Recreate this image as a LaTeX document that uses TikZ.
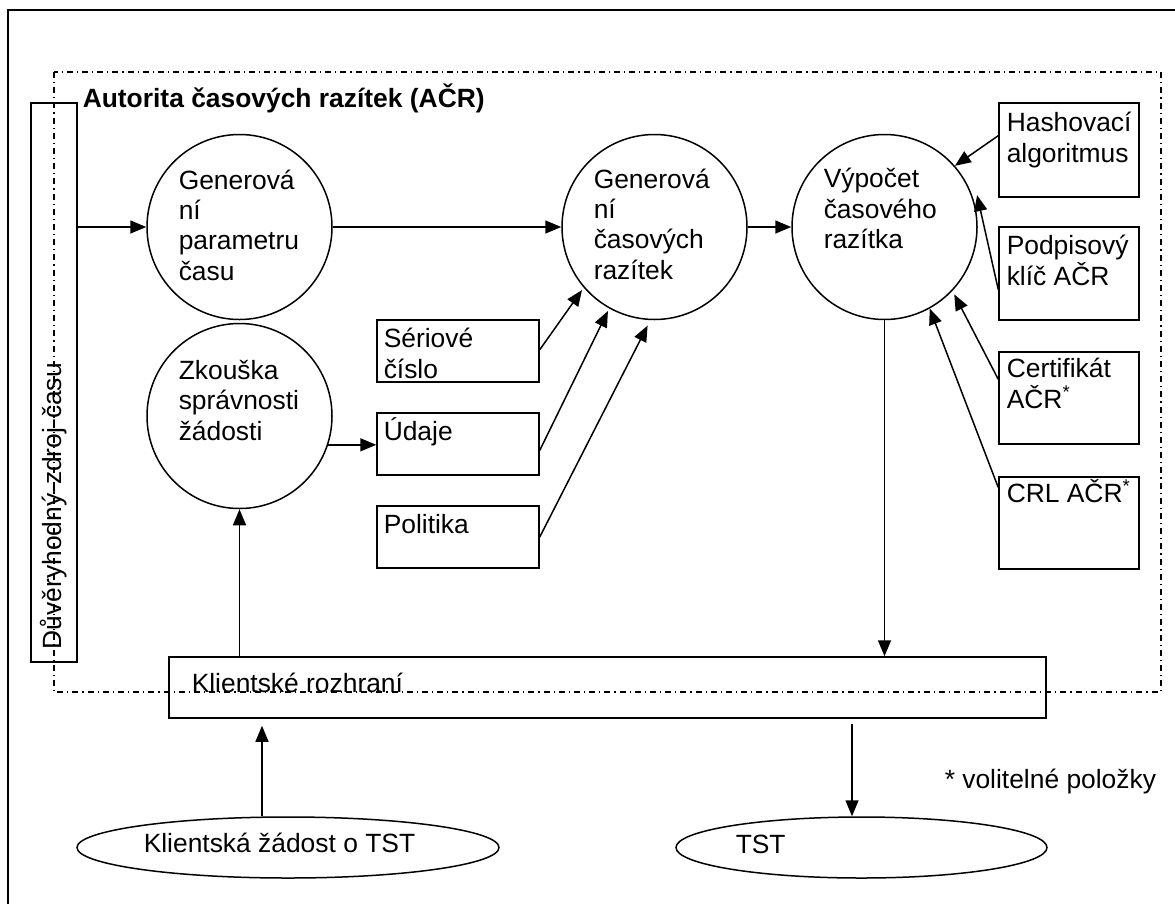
\documentclass[tikz,border=0pt]{standalone}
\usepackage{fontspec}
\setmainfont{Liberation Sans}
\usetikzlibrary{arrows.meta,calc,shapes.geometric}
\begin{document}
\begin{tikzpicture}[x=1pt,y=-1pt,
  line width=1.5pt,
  txt/.style={anchor=base west, align=left, inner sep=0pt, font=\fontsize{26.4}{30.3}\selectfont},
  proc/.style={draw, circle, minimum size=185pt, inner sep=0pt},
  box/.style={draw, rectangle, inner sep=0pt},
  oval/.style={draw, ellipse, minimum height=61pt, inner sep=0pt},
  arr/.style={-{Triangle[length=16pt,width=13pt]}},
  frame/.style={line width=2pt},
  zone/.style={line width=1.2pt, dash pattern=on 6pt off 4pt on 1.2pt off 4pt},
]
\useasboundingbox (0,0) rectangle (1175,903);

% outer frame
\draw[frame] (8,915) -- (8,10) -- (1185,10);

% time source column
\node[box, minimum width=46pt, minimum height=559pt] (zdroj) at (54,382.5) {};
\node[txt, rotate=90] (zdrojt) at (61,650) {Důvěryhodný-zdroj-času};

% processes (multi-line texts are placed by the baseline of their last line)
\node[proc] (c1) at (239.5,227) {};
\node[proc] (c2) at (654.5,227) {};
\node[proc] (c3) at (884.5,227) {};
\node[proc] (c4) at (239.5,416) {};
\node[txt] (c1t) at (178,280) {Generová\\ní\\parametru\\času};
\node[txt] (c2t) at (593,279) {Generová\\ní\\časových\\razítek};
\node[txt] (c3t) at (823,248.5) {Výpočet\\časového\\razítka};
\node[txt] (c4t) at (178,440) {Zkouška\\správnosti\\žádosti};

% inputs of the token
\node[box, minimum width=162pt, minimum height=62pt] (ser) at (458,351) {};
\node[box, minimum width=162pt, minimum height=62pt] (udaje) at (458,444) {};
\node[box, minimum width=162pt, minimum height=62pt] (pol) at (458,537) {};
\node[txt] (sert) at (383,378) {Sériové\\číslo};
\node[txt] (udajet) at (383,440) {Údaje};
\node[txt] (polt) at (383,533) {Politika};

\node[box, minimum width=140pt, minimum height=94pt] (hash) at (1069,150) {};
\node[box, minimum width=140pt, minimum height=93pt] (podp) at (1069,273.5) {};
\node[box, minimum width=140pt, minimum height=92pt] (cert) at (1069,398) {};
\node[box, minimum width=140pt, minimum height=92pt] (crl) at (1069,523) {};
\node[txt] (hasht) at (1006,162) {Hashovací\\algoritmus};
\node[txt] (podpt) at (1006,285) {Podpisový\\klíč AČR};
\node[txt] (certt) at (1006,408) {Certifikát\\AČR\textsuperscript{*}};
\node[txt] (crlt) at (1006,502) {CRL AČR\textsuperscript{*}};

% client side
\node[box, minimum width=877pt, minimum height=61pt] (kr) at (607.5,687.5) {};
\node[txt] (krt) at (191,692) {Klientské rozhraní};
\node[oval, minimum width=422pt] (req) at (288,847.5) {};
\node[oval, minimum width=371pt] (tst) at (861.5,847.5) {};
\node[txt] (reqt) at (143,852) {Klientská žádost o TST};
\node[txt] (tstt) at (735,853) {TST};
\node[txt] (note) at (944,788) {* volitelné položky};

% authority boundary
\draw[zone] (54,72) rectangle (1161,692);
\node[txt, font=\fontsize{26.4}{30.3}\selectfont\bfseries] (title) at (82,107) {Autorita časových razítek (AČR)};

% connectors
\coordinate (inx) at (262,0);
\coordinate (outx) at (852,0);
\draw[arr] (zdroj.east |- c1.west) -- (c1.west);
\draw[arr] (c1.east) -- (c2.west);
\draw[arr] (c2.east) -- (c3.west);
\draw[arr] ($(hash.north west)!0.35!(hash.south west)$) -- (c3.41);
\draw[arr] ($(podp.north west)!0.67!(podp.south west)$) -- ($(c3.center)!1.05!(c3.19)$);
\draw[arr] ($(cert.north west)!0.30!(cert.south west)$) -- ($(c3.center)!1.04!(c3.-44)$);
\draw[arr] ($(crl.north west)!0.12!(crl.south west)$) -- (c3.-61);
\draw[arr] ($(ser.north east)!0.48!(ser.south east)$) -- ($(c2.center)!1.03!(c2.221)$);
\draw[arr] ($(udaje.north east)!0.6!(udaje.south east)$) -- ($(c2.center)!1.03!(c2.241)$);
\draw[arr] ($(pol.north east)!0.5!(pol.south east)$) -- ($(c2.center)!1.06!(c2.266)$);
\draw[arr] (c4.-18) -- (c4.-18 -| udaje.west);
\draw[arr] (c3.south) -- (c3.south |- kr.north);
\draw[arr] (c4.south |- kr.north) -- (c4.south);
\draw[arr, shorten >=7pt] (req.north -| inx) -- (kr.south -| inx);
\draw[arr, shorten <=5pt] (kr.south -| outx) -- (tst.north -| outx);
\end{tikzpicture}
\end{document}
